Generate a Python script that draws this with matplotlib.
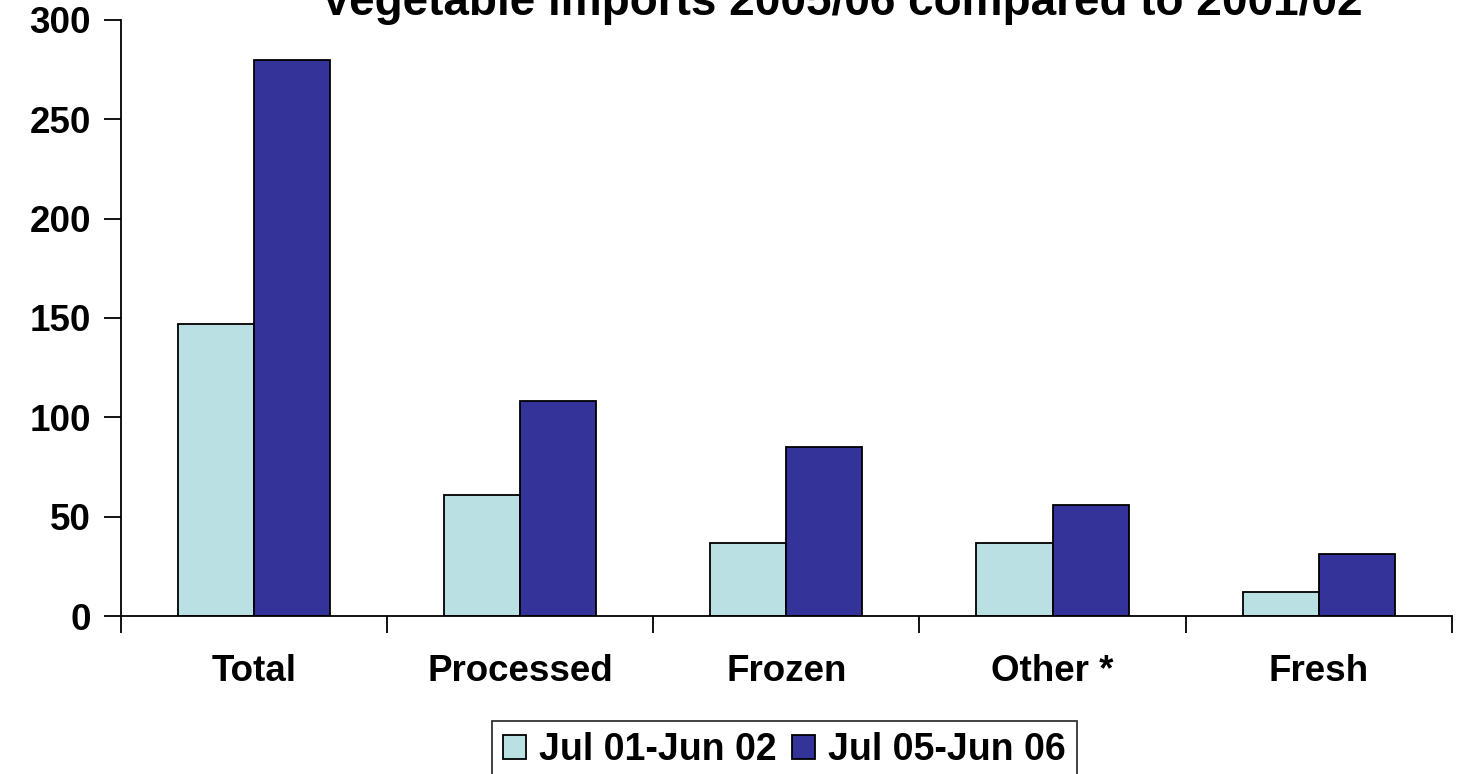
import numpy as np
import matplotlib
matplotlib.use("Agg")
import matplotlib.pyplot as plt

plt.rcParams['font.family'] = ['Liberation Sans', 'DejaVu Sans']
plt.rcParams['font.weight'] = 'bold'

categories = ["Total", "Processed", "Frozen", "Other *", "Fresh"]
period_labels = ["Jul 01-Jun 02", "Jul 05-Jun 06"]
imports_0102 = [147, 61, 37, 37, 12]
imports_0506 = [280, 108, 85, 56, 31]
y_ticks = [0, 50, 100, 150, 200, 250, 300]

light_col = "#BBE0E3"
dark_col = "#333399"

fig = plt.figure(figsize=(14.57, 7.74), dpi=100)
ax = fig.add_axes([0.0828, 0.2041, 0.9138, 0.7701])

x = np.arange(len(categories))
w = 0.286
b1 = ax.bar(x - w / 2, imports_0102, w, color=light_col, edgecolor="black",
            linewidth=1.3, label=period_labels[0])
b2 = ax.bar(x + w / 2, imports_0506, w, color=dark_col, edgecolor="black",
            linewidth=1.3, label=period_labels[1])

ax.set_xlim(-0.5, len(categories) - 0.5)
ax.set_ylim(0, 300)

for s in ["top", "right"]:
    ax.spines[s].set_visible(False)
for s in ["left", "bottom"]:
    ax.spines[s].set_linewidth(1.3)

# category boundaries carry the tick marks, names sit at the centres
ax.set_xticks(np.arange(len(categories) + 1) - 0.5)
ax.set_xticklabels([])
ax.set_xticks(x, minor=True)
ax.set_xticklabels(categories, minor=True, fontsize=26.5, fontweight="bold")
ax.tick_params(axis="x", which="major", direction="out", length=12, width=1.3)
ax.tick_params(axis="x", which="minor", length=0, pad=27)

ax.set_yticks(y_ticks)
ax.set_yticklabels([str(v) for v in y_ticks], fontsize=26.5, fontweight="bold")
ax.tick_params(axis="y", direction="out", length=12, width=1.3, pad=9.5)

fig.text(0.578, 0.981, "Vegetable imports 2005/06 compared to 2001/02",
         ha="center", va="baseline", fontsize=33, fontweight="bold")

leg = fig.legend(handles=[b1, b2], loc="upper left",
                 bbox_to_anchor=(491.7 / 1457, 1 - 721 / 774),
                 ncol=2, frameon=True, fancybox=False, edgecolor="black",
                 prop={"size": 27, "weight": "bold"},
                 handlelength=0.62, handleheight=0.62, handletextpad=0.35,
                 columnspacing=0.4, borderpad=0.3, borderaxespad=0)
leg.get_frame().set_linewidth(1.3)

fig.savefig("out.png", dpi=100)
